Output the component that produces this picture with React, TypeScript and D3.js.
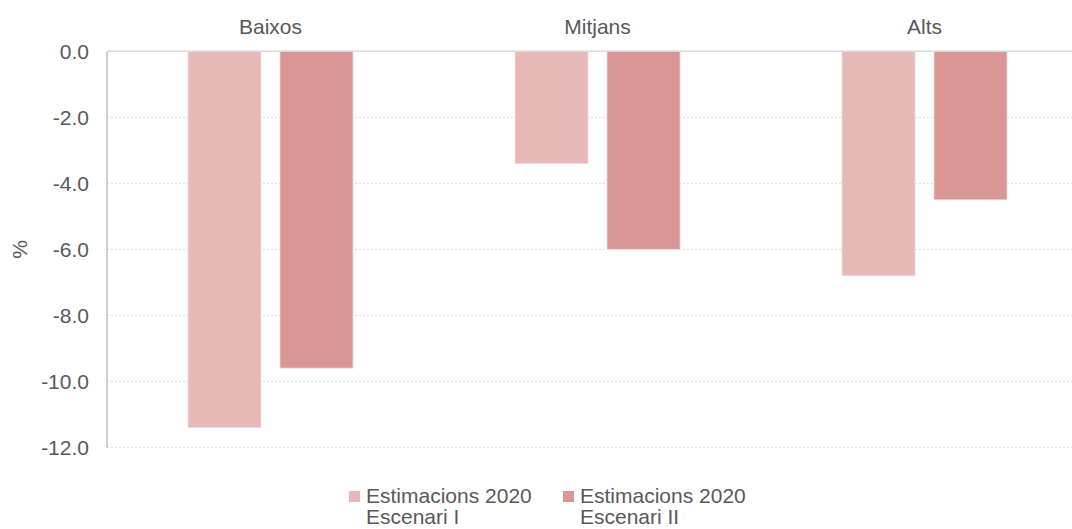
import React, { useEffect, useRef } from "react";
import * as d3 from "d3";

const categories = ["Baixos", "Mitjans", "Alts"];
const seriesNames = ["Estimacions 2020 Escenari I", "Estimacions 2020 Escenari II"];
const legendLines = [
  ["Estimacions 2020", "Escenari I"],
  ["Estimacions 2020", "Escenari II"],
];
const escenariI = [-11.4, -3.4, -6.8];
const escenariII = [-9.6, -6.0, -4.5];
const yTicks = [0, -2, -4, -6, -8, -10, -12];
const colors = ["#E6B9B8", "#D99694"];

export default function App() {
  const ref = useRef<SVGSVGElement>(null);

  useEffect(() => {
    const svg = d3.select(ref.current);
    svg.selectAll("*").remove();

    const left = 107;
    const top = 51.3;
    const bottom = 447.3;
    const bandW = 327;
    const font = "'Liberation Sans', Arial, sans-serif";
    const textColor = "#595959";
    const fs = 21;

    const y = d3.scaleLinear().domain([-12, 0]).range([bottom, top]);
    const x0 = d3.scaleBand<string>().domain(categories).range([left, left + bandW * 3]).padding(0);
    const x1 = d3.scaleBand<string>().domain(seriesNames).range([81, 246]).paddingInner(19 / 92).paddingOuter(0);

    // gridlines
    svg.append("g")
      .selectAll("line")
      .data(yTicks.filter((t) => t !== 0))
      .join("line")
      .attr("x1", left)
      .attr("x2", left + bandW * 3)
      .attr("y1", (d) => y(d))
      .attr("y2", (d) => y(d))
      .attr("stroke", "#D9D9D9")
      .attr("stroke-width", 1)
      .attr("stroke-dasharray", "2,2");

    // bars
    const values = [escenariI, escenariII];
    seriesNames.forEach((s, si) => {
      svg.append("g")
        .selectAll("rect")
        .data(categories.map((c, ci) => ({ c, v: values[si][ci] })))
        .join("rect")
        .attr("x", (d) => (x0(d.c) as number) + (x1(s) as number))
        .attr("width", x1.bandwidth())
        .attr("y", y(0))
        .attr("height", (d) => y(d.v) - y(0))
        .attr("fill", colors[si])
        .attr("stroke", "#F2DCDB")
        .attr("stroke-width", 0.75);
    });

    // zero line
    svg.append("line")
      .attr("x1", left)
      .attr("x2", left + bandW * 3)
      .attr("y1", y(0))
      .attr("y2", y(0))
      .attr("stroke", "#D9D9D9")
      .attr("stroke-width", 1.5);

    // left axis line
    svg.append("line")
      .attr("x1", left)
      .attr("x2", left)
      .attr("y1", y(0))
      .attr("y2", y(-12))
      .attr("stroke", "#BFBFBF")
      .attr("stroke-width", 1.5);

    // y tick labels
    svg.append("g")
      .selectAll("text")
      .data(yTicks)
      .join("text")
      .attr("x", 89)
      .attr("y", (d) => y(d))
      .attr("dy", "0.35em")
      .attr("text-anchor", "end")
      .attr("font-family", font)
      .attr("font-size", fs)
      .attr("fill", textColor)
      .text((d) => d.toFixed(1));

    // category labels
    svg.append("g")
      .selectAll("text")
      .data(categories)
      .join("text")
      .attr("x", (d) => (x0(d) as number) + (x1(seriesNames[0]) as number) + (x1.bandwidth() * 2 + 19) / 2)
      .attr("y", 27)
      .attr("dy", "0.35em")
      .attr("text-anchor", "middle")
      .attr("font-family", font)
      .attr("font-size", fs)
      .attr("fill", textColor)
      .text((d) => d);

    // y-axis title
    svg.append("text")
      .attr("transform", `translate(20,${(y(0) + y(-12)) / 2}) rotate(-90)`)
      .attr("dy", "0.35em")
      .attr("text-anchor", "middle")
      .attr("font-family", font)
      .attr("font-size", fs)
      .attr("fill", textColor)
      .text("%");

    // legend
    const legendX = [349, 563];
    legendLines.forEach((lines, i) => {
      const g = svg.append("g").attr("transform", `translate(${legendX[i]},0)`);
      g.append("rect")
        .attr("x", 0)
        .attr("y", 491)
        .attr("width", 11)
        .attr("height", 11)
        .attr("fill", colors[i]);
      lines.forEach((t, li) => {
        g.append("text")
          .attr("x", 17)
          .attr("y", 503 + li * 21)
          .attr("font-family", font)
          .attr("font-size", fs)
          .attr("fill", textColor)
          .text(t);
      });
    });
  }, []);

  return (
    <svg
      ref={ref}
      width={1072}
      height={529}
      style={{ position: "absolute", left: 0, top: 0, background: "#fff" }}
    />
  );
}
